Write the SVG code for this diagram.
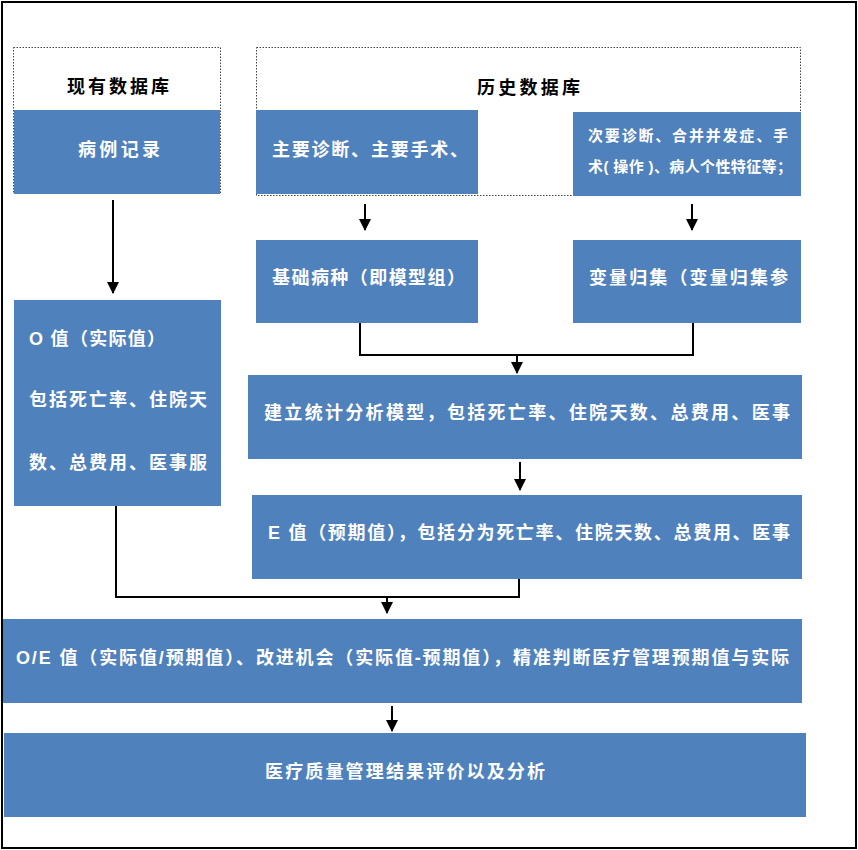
<svg xmlns="http://www.w3.org/2000/svg" width="858" height="850" viewBox="0 0 858 850">
<defs>
<style>
.blue{fill:#4F81BD;}
.dot{fill:none;stroke:#444;stroke-width:1;stroke-dasharray:1.5,1.5;}
.t{font-family:"Liberation Sans","Noto Sans CJK SC",sans-serif;font-weight:bold;font-size:18px;fill:#fff;dominant-baseline:central;}
.tk{fill:#000;}
.s{font-size:15px;}
.conn{fill:none;stroke:#000;stroke-width:2;}
</style>
<marker id="ah" markerUnits="userSpaceOnUse" markerWidth="12" markerHeight="12" viewBox="0 0 12 12" refX="6" refY="11" orient="auto-start-reverse">
<path d="M0,0 L12,0 L6,12 Z" transform="rotate(0)" fill="#000"/>
</marker>
<marker id="ad" markerUnits="userSpaceOnUse" markerWidth="12" markerHeight="12" viewBox="0 0 12 12" refX="6" refY="11" orient="0">
<path d="M0,0 L12,0 L6,12 Z" fill="#000"/>
</marker>
</defs>
<rect x="0" y="0" width="858" height="850" fill="#fff"/>

<g id="node-current-db">
<rect class="dot" x="13.5" y="47.5" width="207" height="146"/>
<text class="t tk" x="67" y="87" textLength="102" lengthAdjust="spacing">现有数据库</text>
</g>
<g id="node-case-records">
<rect class="blue" x="14" y="110" width="206" height="84"/>
<text class="t" x="78" y="150" textLength="82" lengthAdjust="spacing">病例记录</text>
</g>

<g id="node-history-db">
<rect class="dot" x="256.5" y="47.5" width="544" height="148"/>
<text class="t tk" x="477" y="88" textLength="103" lengthAdjust="spacing">历史数据库</text>
</g>
<g id="node-main-diag">
<rect class="blue" x="256" y="110" width="222" height="84"/>
<text class="t" x="272" y="150" textLength="196" lengthAdjust="spacing">主要诊断、主要手术、</text>
</g>
<g id="node-secondary-diag">
<rect class="blue" x="573" y="112" width="228" height="84"/>
<text class="t s" x="588" y="135" textLength="200" lengthAdjust="spacing">次要诊断、合并并发症、手</text>
<text class="t s" x="588" y="166" textLength="204" lengthAdjust="spacing">术( 操作 )、病人个性特征等；</text>
</g>

<g id="node-basic-disease">
<rect class="blue" x="256" y="240" width="222" height="83"/>
<text class="t" x="272" y="278" textLength="193" lengthAdjust="spacing">基础病种（即模型组）</text>
</g>
<g id="node-variable">
<rect class="blue" x="573" y="240" width="228" height="83"/>
<text class="t" x="589" y="278" textLength="199" lengthAdjust="spacing">变量归集（变量归集参</text>
</g>

<g id="node-o-value">
<rect class="blue" x="14" y="300" width="207" height="206"/>
<text class="t" x="29" y="339" textLength="136" lengthAdjust="spacing">O 值（实际值）</text>
<text class="t" x="29" y="400" textLength="178" lengthAdjust="spacing">包括死亡率、住院天</text>
<text class="t" x="29" y="463" textLength="178" lengthAdjust="spacing">数、总费用、医事服</text>
</g>

<g id="node-model">
<rect class="blue" x="248" y="375" width="554" height="84"/>
<text class="t" x="264" y="413" textLength="526" lengthAdjust="spacing">建立统计分析模型，包括死亡率、住院天数、总费用、医事</text>
</g>

<g id="node-e-value">
<rect class="blue" x="252" y="495" width="550" height="84"/>
<text class="t" x="268" y="533" textLength="522" lengthAdjust="spacing">E 值（预期值），包括分为死亡率、住院天数、总费用、医事</text>
</g>

<g id="node-oe">
<rect class="blue" x="2" y="619" width="800" height="84"/>
<text class="t" x="16" y="658" textLength="773" lengthAdjust="spacing">O/E 值（实际值/预期值）、改进机会（实际值-预期值），精准判断医疗管理预期值与实际</text>
</g>

<g id="node-result">
<rect class="blue" x="4" y="733" width="802" height="84"/>
<text class="t" x="265" y="772" textLength="280" lengthAdjust="spacing">医疗质量管理结果评价以及分析</text>
</g>

<g id="connectors">
<path class="conn" d="M113,200 V293" marker-end="url(#ad)"/>
<path class="conn" d="M365,204 V230" marker-end="url(#ad)"/>
<path class="conn" d="M692,204 V230" marker-end="url(#ad)"/>
<path class="conn" d="M360,323 V355 H693 V323"/>
<path class="conn" d="M517,355 V373" marker-end="url(#ad)"/>
<path class="conn" d="M520,462 V490" marker-end="url(#ad)"/>
<path class="conn" d="M116,506 V597 H519 V579"/>
<path class="conn" d="M387,597 V613" marker-end="url(#ad)"/>
<path class="conn" d="M392,706 V731" marker-end="url(#ad)"/>
</g>

<rect x="2" y="2" width="854" height="846" fill="none" stroke="#000" stroke-width="2"/>
</svg>
